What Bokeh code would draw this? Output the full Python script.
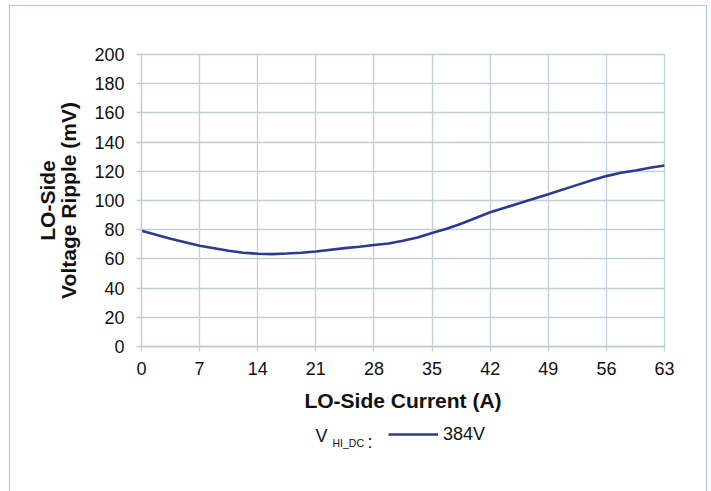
from bokeh.plotting import figure
from bokeh.layouts import column
from bokeh.models import Range1d, FixedTicker, Label, Legend, LegendItem
from bokeh.embed import file_html
from bokeh.resources import INLINE

# LO-side voltage ripple versus LO-side current, V_HI_DC = 384 V
current_a = [0, 3.5, 7, 10.5, 12.25, 14, 15.75, 17.5, 19.25, 21, 24.5, 26.25, 28, 29.75,
             31.5, 33.25, 35, 36.75, 38.5, 40.25, 42, 45.5, 49, 52.5, 54.25, 56, 57.75,
             59.5, 61.25, 63]
ripple_mv = [79.3, 73.8, 69.0, 65.6, 64.2, 63.5, 63.3, 63.7, 64.2, 65.1, 67.4, 68.3, 69.5, 70.6,
             72.4, 74.7, 77.7, 80.7, 84.1, 88.0, 91.9, 98.1, 104.3, 110.7, 113.9, 116.7, 119.0,
             120.6, 122.4, 124.0]

x_ticks = [0, 7, 14, 21, 28, 35, 42, 49, 56, 63]
y_ticks = [0, 20, 40, 60, 80, 100, 120, 140, 160, 180, 200]
series_label = "384V"

FONT = "Liberation Sans"
GRID = "#bfced7"
LINE = "#2b3a8f"
TEXT = "#111111"
LINE_W = 2.6

# --- main chart ---
p = figure(
    frame_width=523, frame_height=292,
    min_border_left=131, min_border_top=48, min_border_right=42, min_border_bottom=75,
    x_range=Range1d(0, 63), y_range=Range1d(0, 200),
    output_backend="svg", toolbar_location=None,
)
p.background_fill_color = "white"
p.border_fill_color = "white"
p.outline_line_color = GRID
p.outline_line_width = 1.3

p.xaxis.ticker = FixedTicker(ticks=x_ticks)
p.yaxis.ticker = FixedTicker(ticks=y_ticks)
for ax in (p.xaxis, p.yaxis):
    ax.axis_line_color = GRID
    ax.axis_line_width = 1.3
    ax.major_tick_line_color = GRID
    ax.major_tick_line_width = 1.3
    ax.major_tick_in = 0
    ax.major_tick_out = 5
    ax.minor_tick_line_color = None
    ax.major_label_text_font = FONT
    ax.major_label_text_font_size = "18px"
    ax.major_label_text_color = TEXT
    ax.axis_label_text_font = FONT
    ax.axis_label_text_font_size = "21px"
    ax.axis_label_text_font_style = "bold"
    ax.axis_label_text_color = TEXT
p.xaxis.major_label_standoff = 10
p.yaxis.major_label_standoff = 12

p.xaxis.axis_label = "LO-Side Current (A)"
p.xaxis.axis_label_standoff = 11
p.yaxis.axis_label = "LO-Side\nVoltage Ripple (mV)"
p.yaxis.axis_label_standoff = 11
p.yaxis.axis_label_text_line_height = 0.95

for g in (p.xgrid, p.ygrid):
    g.grid_line_color = GRID
    g.grid_line_width = 1.3
p.xgrid.ticker = FixedTicker(ticks=x_ticks)
p.ygrid.ticker = FixedTicker(ticks=y_ticks)

p.line(current_a, ripple_mv, line_color=LINE, line_width=LINE_W)

# --- legend strip under the chart (its frame lines up with the chart frame) ---
q = figure(
    width=696, height=71, min_border=0,
    x_axis_type=None, y_axis_type=None,
    x_range=Range1d(0, 1), y_range=Range1d(0, 1),
    output_backend="svg", toolbar_location=None,
)
q.outline_line_color = None
q.grid.visible = False
q.background_fill_color = "white"
q.border_fill_color = "white"

# legend key: a single-point line (draws nothing itself) carrying the series style
key = q.line([0.5], [0.5], line_color=LINE, line_width=LINE_W)
legend = Legend(
    items=[LegendItem(label=series_label, renderers=[key])],
    location=(247, 46),
    glyph_width=50, glyph_height=24, label_height=24, label_standoff=5,
    padding=0, margin=0, spacing=0,
    border_line_color=None, background_fill_alpha=0,
    label_text_font=FONT, label_text_font_size="18px", label_text_color=TEXT,
)
q.add_layout(legend)

# caption: V with HI_DC subscript
for text, x, y, size in (("V", 174, 57, "18px"), ("HI_DC", 191, 50, "10.5px"), (":", 226, 51, "18px")):
    q.add_layout(Label(x=x, y=y, x_units="screen", y_units="screen", text=text,
                       text_align="left", text_baseline="alphabetic",
                       text_font=FONT, text_font_size=size, text_color=TEXT))

layout = column(
    p, q,
    margin=(5, 0, 0, 9),
    styles={"border": "1px solid #b3c6d0", "border-bottom": "none", "background": "white"},
)

open("out.html", "w").write(file_html(layout, INLINE))
